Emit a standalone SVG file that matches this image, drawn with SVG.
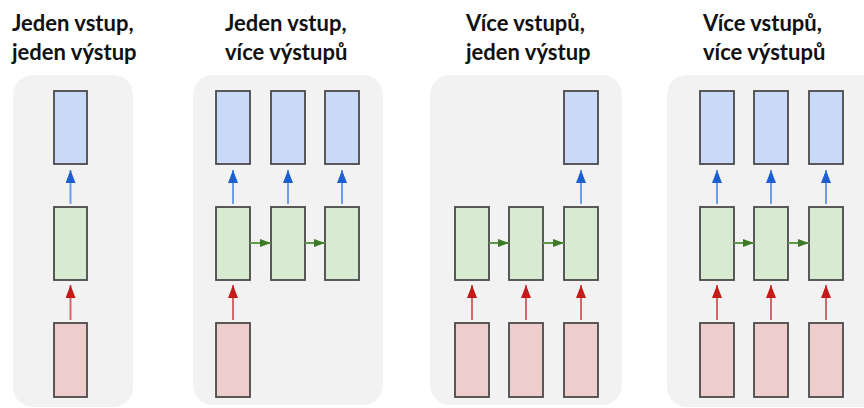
<svg xmlns="http://www.w3.org/2000/svg" width="864" height="408" viewBox="0 0 864 408">
  <style>
    .panel { fill: #f2f2f2; }
    .title { font-family: Lato, "Open Sans", "Liberation Sans", sans-serif; font-weight: bold; font-size: 22px; fill: #111; }
    .box { stroke: #4a4a4a; stroke-width: 1.8; }
    .out { fill: #c9daf8; }
    .hid { fill: #d9ead3; }
    .inp { fill: #eecdcd; }
    .a-blue { stroke: #6d9eeb; stroke-width: 2; fill: none; marker-end: url(#head-blue); }
    .a-red { stroke: #d06a6a; stroke-width: 2; fill: none; marker-end: url(#head-red); }
    .a-green { stroke: #5d9a4a; stroke-width: 2; fill: none; marker-end: url(#head-green); }
  </style>
  <defs>
    <marker id="head-blue" markerUnits="userSpaceOnUse" markerWidth="13" markerHeight="10" refX="13" refY="5" orient="auto" viewBox="0 0 13 10">
      <path d="M0,0 L13,5 L0,10 Z" fill="#1d5fd0"/>
    </marker>
    <marker id="head-red" markerUnits="userSpaceOnUse" markerWidth="13" markerHeight="10" refX="13" refY="5" orient="auto" viewBox="0 0 13 10">
      <path d="M0,0 L13,5 L0,10 Z" fill="#c41a1a"/>
    </marker>
    <marker id="head-green" markerUnits="userSpaceOnUse" markerWidth="11" markerHeight="10" refX="11" refY="5" orient="auto" viewBox="0 0 11 10">
      <path d="M0,1 L11,5 L0,9 Z" fill="#3d7a27"/>
    </marker>
  </defs>

  <!-- panel backgrounds -->
  <rect class="panel" x="13" y="75" width="120" height="332" rx="20"/>
  <rect class="panel" x="193" y="75" width="190" height="330" rx="20"/>
  <rect class="panel" x="430" y="75" width="192" height="330" rx="20"/>
  <rect class="panel" x="667" y="75" width="215" height="332" rx="20"/>

  <!-- titles -->
  <g id="title-1">
    <text class="title" x="12" y="31">Jeden vstup,</text>
    <text class="title" x="12" y="60">jeden výstup</text>
  </g>
  <g id="title-2">
    <text class="title" x="225" y="31">Jeden vstup,</text>
    <text class="title" x="225" y="60">více výstupů</text>
  </g>
  <g id="title-3">
    <text class="title" x="466" y="31">Více vstupů,</text>
    <text class="title" x="466" y="60">jeden výstup</text>
  </g>
  <g id="title-4">
    <text class="title" x="703" y="31">Více vstupů,</text>
    <text class="title" x="703" y="60">více výstupů</text>
  </g>

  <!-- one to one -->
  <g id="p1-out"><rect class="box out" x="54" y="91" width="33" height="73"/></g>
  <g id="p1-hid"><rect class="box hid" x="54" y="207" width="33" height="73"/></g>
  <g id="p1-in"><rect class="box inp" x="54" y="323" width="33" height="74"/></g>

  <!-- one to many -->
  <g id="p2-out1"><rect class="box out" x="216" y="91" width="34" height="73"/></g>
  <g id="p2-out2"><rect class="box out" x="271" y="91" width="34" height="73"/></g>
  <g id="p2-out3"><rect class="box out" x="325" y="91" width="34" height="73"/></g>
  <g id="p2-hid1"><rect class="box hid" x="216" y="207" width="34" height="73"/></g>
  <g id="p2-hid2"><rect class="box hid" x="271" y="207" width="34" height="73"/></g>
  <g id="p2-hid3"><rect class="box hid" x="325" y="207" width="34" height="73"/></g>
  <g id="p2-in1"><rect class="box inp" x="216" y="323" width="34" height="74"/></g>

  <!-- many to one -->
  <g id="p3-out3"><rect class="box out" x="564" y="91" width="34" height="73"/></g>
  <g id="p3-hid1"><rect class="box hid" x="455" y="207" width="34" height="73"/></g>
  <g id="p3-hid2"><rect class="box hid" x="509" y="207" width="34" height="73"/></g>
  <g id="p3-hid3"><rect class="box hid" x="564" y="207" width="34" height="73"/></g>
  <g id="p3-in1"><rect class="box inp" x="455" y="323" width="34" height="74"/></g>
  <g id="p3-in2"><rect class="box inp" x="509" y="323" width="34" height="74"/></g>
  <g id="p3-in3"><rect class="box inp" x="564" y="323" width="34" height="74"/></g>

  <!-- many to many -->
  <g id="p4-out1"><rect class="box out" x="700" y="91" width="34" height="73"/></g>
  <g id="p4-out2"><rect class="box out" x="754" y="91" width="34" height="73"/></g>
  <g id="p4-out3"><rect class="box out" x="809" y="91" width="34" height="73"/></g>
  <g id="p4-hid1"><rect class="box hid" x="700" y="207" width="34" height="73"/></g>
  <g id="p4-hid2"><rect class="box hid" x="754" y="207" width="34" height="73"/></g>
  <g id="p4-hid3"><rect class="box hid" x="809" y="207" width="34" height="73"/></g>
  <g id="p4-in1"><rect class="box inp" x="700" y="323" width="34" height="74"/></g>
  <g id="p4-in2"><rect class="box inp" x="754" y="323" width="34" height="74"/></g>
  <g id="p4-in3"><rect class="box inp" x="809" y="323" width="34" height="74"/></g>

  <!-- connectors -->
  <g id="connectors">
    <!-- panel 1 -->
    <line class="a-blue" x1="70.5" y1="204" x2="70.5" y2="170"/>
    <line class="a-red" x1="70.5" y1="320" x2="70.5" y2="285"/>
    <!-- panel 2 -->
    <line class="a-blue" x1="233" y1="204" x2="233" y2="170"/>
    <line class="a-blue" x1="288" y1="204" x2="288" y2="170"/>
    <line class="a-blue" x1="342" y1="204" x2="342" y2="170"/>
    <line class="a-red" x1="233" y1="320" x2="233" y2="285"/>
    <line class="a-green" x1="250" y1="243" x2="271" y2="243"/>
    <line class="a-green" x1="305" y1="243" x2="325" y2="243"/>
    <!-- panel 3 -->
    <line class="a-blue" x1="581" y1="204" x2="581" y2="170"/>
    <line class="a-red" x1="472" y1="320" x2="472" y2="285"/>
    <line class="a-red" x1="526" y1="320" x2="526" y2="285"/>
    <line class="a-red" x1="581" y1="320" x2="581" y2="285"/>
    <line class="a-green" x1="489" y1="243" x2="509" y2="243"/>
    <line class="a-green" x1="543" y1="243" x2="564" y2="243"/>
    <!-- panel 4 -->
    <line class="a-blue" x1="717" y1="204" x2="717" y2="170"/>
    <line class="a-blue" x1="771" y1="204" x2="771" y2="170"/>
    <line class="a-blue" x1="826" y1="204" x2="826" y2="170"/>
    <line class="a-red" x1="717" y1="320" x2="717" y2="285"/>
    <line class="a-red" x1="771" y1="320" x2="771" y2="285"/>
    <line class="a-red" x1="826" y1="320" x2="826" y2="285"/>
    <line class="a-green" x1="734" y1="243" x2="754" y2="243"/>
    <line class="a-green" x1="788" y1="243" x2="809" y2="243"/>
  </g>
</svg>
